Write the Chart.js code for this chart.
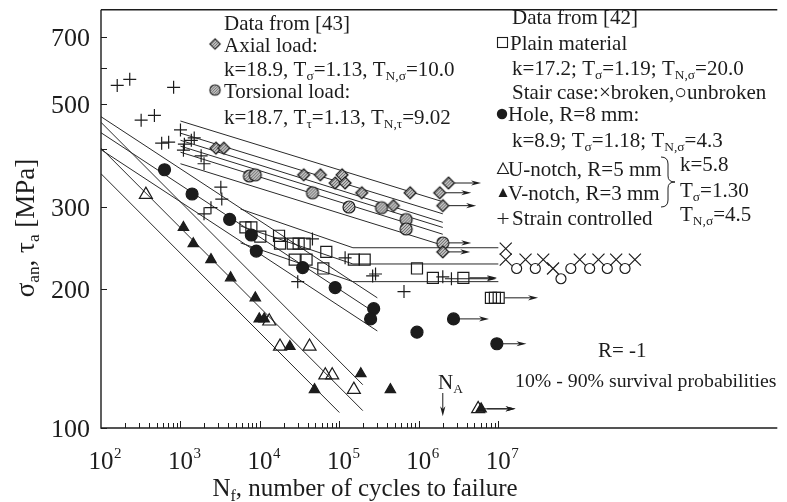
<!DOCTYPE html>
<html>
<head>
<meta charset="utf-8">
<script src="https://cdn.jsdelivr.net/npm/chart.js@4.4.0/dist/chart.umd.min.js"></script>
<style>
  html, body { margin: 0; padding: 0; background: #fff; }
  canvas { display: block; }
</style>
</head>
<body>
<canvas id="snChart" width="787" height="502"></canvas>
<script>
// N = cycles to failure, S = stress amplitude [MPa]
const strainN = [160, 230, 820, 320, 470, 580, 710, 1000, 1120, 1370, 1490, 1090, 1820, 1980, 3220, 3310, 2420, 1980, 29900, 45800, 118000, 262000, 285000, 650000, 2000000, 2570000];
const strainS = [549, 566, 544, 462, 473, 412, 414, 440, 410, 418, 423, 398, 387, 372, 331, 312, 299, 290, 207, 256, 233, 213, 215, 197, 212, 210];

const plainN = [6570, 7800, 10100, 17400, 17900, 25900, 30700, 36500, 68400, 27400, 38600, 62800, 152000, 208000, 947000, 1500000, 3630000, 8070000, 9050000, 10100000];
const plainS = [271, 271, 259, 260, 250, 250, 250, 250, 240, 231, 231, 221, 231, 231, 221, 211, 211, 191, 191, 191];

const holeN = [630, 1400, 4160, 7800, 9000, 34500, 88400, 270000, 247000, 947000, 2730000, 9580000];
const holeS = [361, 320, 282, 261, 241, 222, 201, 181, 172, 161, 172, 152];

const vNotchN = [1090, 1450, 2420, 4280, 8740, 9800, 11300, 23800, 48600, 186000, 438000, 6070000];
const vNotchS = [271, 250, 231, 211, 191, 172, 172, 150, 121, 131, 121, 110];

const uNotchN = [367, 13100, 17900, 42100, 66500, 81200, 152000, 5570000];
const uNotchS = [319, 170, 150, 150, 130, 130, 121, 110];

const axialN = [2790, 3500, 35500, 57600, 108000, 88400, 118000, 191000, 477000, 776000, 1830000, 2360000, 2000000, 2000000];
const axialS = [402, 402, 352, 352, 352, 338, 338, 322, 302, 322, 322, 338, 302, 240];

const torsionN = [7370, 8740, 45800, 132000, 339000, 692000, 692000, 2000000];
const torsionS = [350, 352, 322, 300, 299, 282, 269, 251];

// staircase (plain material)
const stairBrokenN = [1.24e7, 1.24e7, 2.2e7, 3.67e7, 4.88e7, 1.06e8, 1.82e8, 3.04e8, 5.23e8];
const stairBrokenS = [244, 231, 231, 231, 221, 231, 231, 231, 231];
const stairUnbrokenN = [1.7e7, 2.92e7, 6.14e7, 8.17e7, 1.41e8, 2.35e8, 3.93e8];
const stairUnbrokenS = [221, 221, 210, 221, 221, 221, 221];

// run-outs: start N, stress, arrow tip N
const runoutN = [2360000, 1830000, 2000000, 2000000, 2000000, 2570000, 3630000, 10100000, 2730000, 9580000, 5570000, 6070000];
const runoutS = [338, 322, 302, 251, 240, 210, 211, 191, 172, 152, 110, 110];
const runoutToN = [6070000, 4560000, 5260000, 4560000, 4430000, 9580000, 9580000, 31600000, 7630000, 22600000, 16500000, 16500000];

// 10% / 50% / 90% scatter bands
const axialBandN = [1e3, 2e6];
const axialBandS = [[460, 308], [433, 290], [406, 271]];
const torsionBandN = [1e3, 2e6];
const torsionBandS = [[418, 278], [394, 262], [372, 248]];
const plainBandN = [5700, 148000, 1.0e7];
const plainBandS = [[297, 245, 245], [273, 226, 226], [251, 207, 207]];
const holeBandN = [100, 300000];
const holeBandS = [[470, 191], [434, 176], [399, 162]];
const notchBandN = [[100, 197000], [100, 197000], [100, 100000]];
const notchBandS = [[457, 124], [402, 109], [354, 108]];

const kneeN = 2e6;
const kneeArrowS = [119, 106];

const yTickLabels = [100, 200, 300, 500, 700];
const yMinorTicks = [400, 600];
const xDecades = [2, 3, 4, 5, 6, 7];

const INK = '#1c1c1c';
const SERIF = '"Liberation Serif", "Times New Roman", serif';

function makeHatched(shape, r) {
  const s = Math.ceil(2 * r + 4);
  const c = document.createElement('canvas');
  c.width = s; c.height = s;
  const g = c.getContext('2d');
  const m = s / 2;
  const outline = () => {
    g.beginPath();
    if (shape === 'diamond') {
      g.moveTo(m, m - r); g.lineTo(m + r, m); g.lineTo(m, m + r); g.lineTo(m - r, m); g.closePath();
    } else {
      g.arc(m, m, r, 0, Math.PI * 2);
    }
  };
  outline(); g.fillStyle = '#c6c6c6'; g.fill();
  g.save(); outline(); g.clip();
  g.strokeStyle = '#555'; g.lineWidth = 0.9;
  g.beginPath();
  for (let i = -s; i < 2 * s; i += 3) { g.moveTo(i, s); g.lineTo(i + s, 0); }
  g.stroke(); g.restore();
  outline(); g.strokeStyle = INK; g.lineWidth = 1.2; g.stroke();
  return c;
}

const diamondImg = makeHatched('diamond', 6);
const hatchCircleImg = makeHatched('circle', 6);

const pts = (ns, ss) => ns.map((n, i) => ({ x: n, y: ss[i] }));

function marker(data, style, radius, fill) {
  return {
    data,
    showLine: false,
    pointStyle: style,
    pointRadius: radius,
    pointBorderWidth: 1.2,
    pointBorderColor: INK,
    pointBackgroundColor: fill || 'rgba(0,0,0,0)',
  };
}

function band(ns, ss) {
  return {
    data: pts(ns, ss),
    showLine: true,
    borderColor: '#2a2a2a',
    borderWidth: 1,
    pointRadius: 0,
    fill: false,
  };
}

const datasets = [
  marker(pts(strainN, strainS), 'cross', 6.5),
  marker(pts(plainN, plainS), 'rect', 7.8),
  marker(pts(holeN, holeS), 'circle', 6, INK),
  marker(pts(vNotchN, vNotchS), 'triangle', 6, INK),
  marker(pts(uNotchN, uNotchS), 'triangle', 7.5),
  marker(pts(axialN, axialS), diamondImg, 6),
  marker(pts(torsionN, torsionS), hatchCircleImg, 6),
  marker(pts(stairBrokenN, stairBrokenS), 'crossRot', 8.5),
  marker(pts(stairUnbrokenN, stairUnbrokenS), 'circle', 5),
];
axialBandS.forEach(s => datasets.push(band(axialBandN, s)));
torsionBandS.forEach(s => datasets.push(band(torsionBandN, s)));
plainBandS.forEach(s => datasets.push(band(plainBandN, s)));
holeBandS.forEach(s => datasets.push(band(holeBandN, s)));
notchBandS.forEach((s, i) => datasets.push(band(notchBandN[i], s)));

// text with sub/superscripts: parts = [[text, kind]], kind 0 normal, 1 sub, 2 sup
function rich(ctx, x, y, parts, size, align) {
  const sizeOf = k => (k ? size * 0.64 : size);
  let w = 0;
  parts.forEach(([t, k]) => { ctx.font = sizeOf(k) + 'px ' + SERIF; w += ctx.measureText(t).width; });
  let cx = align === 'center' ? x - w / 2 : align === 'right' ? x - w : x;
  parts.forEach(([t, k]) => {
    ctx.font = sizeOf(k) + 'px ' + SERIF;
    const dy = k === 1 ? size * 0.2 : k === 2 ? -size * 0.42 : 0;
    ctx.fillText(t, cx, y + dy);
    cx += ctx.measureText(t).width;
  });
  return w;
}

function arrowRight(ctx, x1, y, x2) {
  ctx.beginPath();
  ctx.moveTo(x1, y); ctx.lineTo(x2 - 4, y);
  ctx.stroke();
  ctx.beginPath();
  ctx.moveTo(x2, y); ctx.lineTo(x2 - 10, y - 2.6); ctx.lineTo(x2 - 7, y); ctx.lineTo(x2 - 10, y + 2.6);
  ctx.closePath(); ctx.fill();
}

const decor = {
  id: 'decor',
  afterDraw(chart) {
    const { ctx, chartArea: a, scales: { x, y } } = chart;
    ctx.save();
    ctx.strokeStyle = INK; ctx.fillStyle = INK;

    // frame
    ctx.lineWidth = 1.4;
    ctx.beginPath();
    ctx.moveTo(a.left, a.top); ctx.lineTo(a.left, a.bottom); ctx.lineTo(a.right, a.bottom);
    ctx.moveTo(a.left, a.top); ctx.lineTo(a.right, a.top);
    ctx.stroke();

    // y ticks (inside)
    ctx.lineWidth = 1;
    ctx.beginPath();
    yTickLabels.concat(yMinorTicks).forEach(v => {
      const py = Math.round(y.getPixelForValue(v)) + 0.5;
      ctx.moveTo(a.left, py); ctx.lineTo(a.left + 6, py);
    });
    // x ticks (inside, decades 10^2..10^7)
    xDecades.forEach((n, i) => {
      if (i > 0) {
        const px = Math.round(x.getPixelForValue(Math.pow(10, n))) + 0.5;
        ctx.moveTo(px, a.bottom); ctx.lineTo(px, a.bottom - 7);
      }
      if (i < xDecades.length - 1) {
        for (let m = 2; m <= 9; m++) {
          const px = Math.round(x.getPixelForValue(m * Math.pow(10, n))) + 0.5;
          ctx.moveTo(px, a.bottom); ctx.lineTo(px, a.bottom - 5);
        }
      }
    });
    ctx.stroke();

    // tick labels
    ctx.textBaseline = 'alphabetic';
    yTickLabels.forEach(v => {
      rich(ctx, 90, y.getPixelForValue(v) + 9, [[String(v), 0]], 26, 'right');
    });
    xDecades.forEach(n => {
      const px = x.getPixelForValue(Math.pow(10, n));
      ctx.font = '25px ' + SERIF;
      const w = ctx.measureText('10').width;
      ctx.fillText('10', px - w / 2, 469);
      ctx.font = '15px ' + SERIF;
      ctx.fillText(String(n), px + w / 2 + 0.5, 458);
    });

    // axis titles
    rich(ctx, 365, 496, [['N', 0], ['f', 1], [', number of cycles to failure', 0]], 25, 'center');
    ctx.save();
    ctx.translate(34, 228);
    ctx.rotate(-Math.PI / 2);
    rich(ctx, 0, 0, [['σ', 0], ['an', 1], [', τ', 0], ['a', 1], [' [MPa]', 0]], 27, 'center');
    ctx.restore();

    // run-out arrows
    ctx.lineWidth = 1;
    runoutN.forEach((n, i) => {
      const py = y.getPixelForValue(runoutS[i]);
      arrowRight(ctx, x.getPixelForValue(n) + 6, py, x.getPixelForValue(runoutToN[i]));
    });

    // N_A marker
    const kx = x.getPixelForValue(kneeN);
    const ky1 = y.getPixelForValue(kneeArrowS[0]);
    const ky2 = y.getPixelForValue(kneeArrowS[1]);
    ctx.beginPath(); ctx.moveTo(kx, ky1); ctx.lineTo(kx, ky2 - 4); ctx.stroke();
    ctx.beginPath();
    ctx.moveTo(kx, ky2); ctx.lineTo(kx - 2.6, ky2 - 10); ctx.lineTo(kx, ky2 - 7); ctx.lineTo(kx + 2.6, ky2 - 10);
    ctx.closePath(); ctx.fill();
    rich(ctx, 438, 389, [['N', 0], ['A', 1]], 21);

    // annotation blocks
    const F = 21;
    rich(ctx, 224, 30, [['Data from [43]', 0]], F);
    ctx.drawImage(diamondImg, 215 - diamondImg.width / 2 + 1, 45 - diamondImg.height / 2, diamondImg.width - 2, diamondImg.height - 2);
    rich(ctx, 224, 52, [['Axial load:', 0]], F);
    rich(ctx, 224, 76, [['k=18.9, T', 0], ['σ', 1], ['=1.13, T', 0], ['N,σ', 1], ['=10.0', 0]], F);
    ctx.drawImage(hatchCircleImg, 215 - hatchCircleImg.width / 2 + 1, 91 - hatchCircleImg.height / 2, hatchCircleImg.width - 2, hatchCircleImg.height - 2);
    rich(ctx, 224, 98, [['Torsional load:', 0]], F);
    rich(ctx, 224, 124, [['k=18.7, T', 0], ['τ', 1], ['=1.13, T', 0], ['N,τ', 1], ['=9.02', 0]], F);

    rich(ctx, 512, 24, [['Data from [42]', 0]], F);
    ctx.lineWidth = 1.1;
    ctx.strokeRect(497.5, 37.5, 10, 10);
    rich(ctx, 510, 50, [['Plain material', 0]], F);
    rich(ctx, 512, 75, [['k=17.2; T', 0], ['σ', 1], ['=1.19; T', 0], ['N,σ', 1], ['=20.0', 0]], F);
    rich(ctx, 512, 99, [['Stair case:×broken,○unbroken', 0]], F);
    ctx.beginPath(); ctx.arc(502, 114, 5.2, 0, Math.PI * 2); ctx.fill();
    rich(ctx, 508, 121, [['Hole, R=8 mm:', 0]], F);
    rich(ctx, 512, 147, [['k=8.9; T', 0], ['σ', 1], ['=1.18; T', 0], ['N,σ', 1], ['=4.3', 0]], F);
    ctx.beginPath(); ctx.moveTo(503, 163); ctx.lineTo(508.5, 173.5); ctx.lineTo(497.5, 173.5); ctx.closePath(); ctx.stroke();
    rich(ctx, 508, 176, [['U-notch, R=5 mm', 0]], F);
    ctx.beginPath(); ctx.moveTo(503, 188); ctx.lineTo(507.5, 197); ctx.lineTo(498.5, 197); ctx.closePath(); ctx.fill();
    rich(ctx, 508, 200, [['V-notch, R=3 mm', 0]], F);
    ctx.beginPath(); ctx.moveTo(497.5, 218.5); ctx.lineTo(508.5, 218.5); ctx.moveTo(503, 213); ctx.lineTo(503, 224); ctx.stroke();
    rich(ctx, 512, 225, [['Strain controlled', 0]], F);

    // brace grouping U- and V-notch
    ctx.lineWidth = 1;
    ctx.beginPath();
    ctx.moveTo(661, 157);
    ctx.quadraticCurveTo(668, 157, 668, 164);
    ctx.lineTo(668, 176);
    ctx.quadraticCurveTo(668, 182, 675, 182);
    ctx.quadraticCurveTo(668, 182, 668, 188);
    ctx.lineTo(668, 200);
    ctx.quadraticCurveTo(668, 207, 661, 207);
    ctx.stroke();
    rich(ctx, 680, 171, [['k=5.8', 0]], F);
    rich(ctx, 680, 197, [['T', 0], ['σ', 1], ['=1.30', 0]], F);
    rich(ctx, 680, 221, [['T', 0], ['N,σ', 1], ['=4.5', 0]], F);

    rich(ctx, 598, 357, [['R= -1', 0]], F);
    rich(ctx, 515, 387, [['10% - 90% survival probabilities', 0]], 19.8);
    ctx.restore();
  }
};

new Chart(document.getElementById('snChart').getContext('2d'), {
  type: 'scatter',
  data: { datasets },
  options: {
    responsive: false,
    animation: false,
    devicePixelRatio: 1,
    events: [],
    layout: { padding: { left: 101, top: 8, right: 0, bottom: 74 } },
    plugins: { legend: { display: false }, tooltip: { enabled: false } },
    scales: {
      x: { type: 'logarithmic', min: 100, max: 3.24e10, display: false },
      y: { type: 'logarithmic', min: 100, max: 800, display: false },
    },
  },
  plugins: [decor],
});
</script>
</body>
</html>
